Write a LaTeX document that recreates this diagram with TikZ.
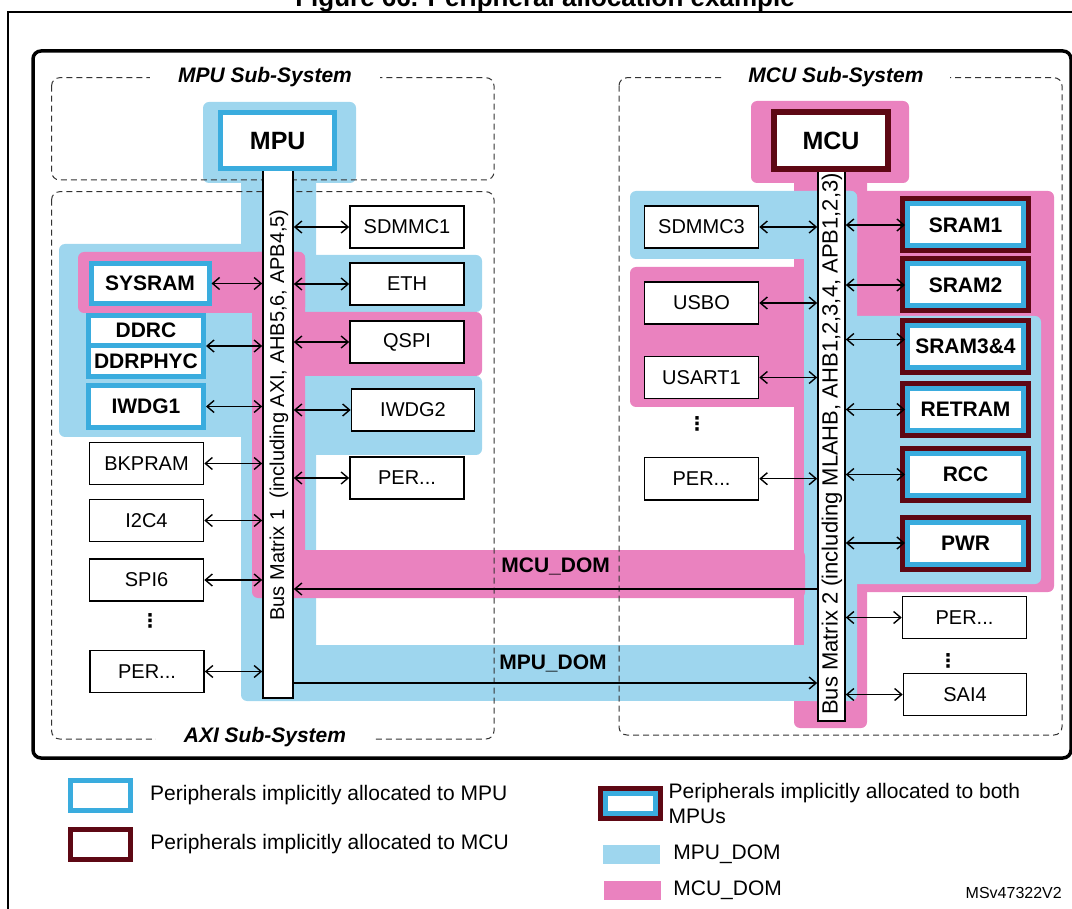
\documentclass[tikz,border=0pt]{standalone}
\usepackage{fontspec}
\setmainfont{Liberation Sans}
\newfontfamily\dotsfont{DejaVu Sans}
\usepackage{xcolor}
\usepackage{tikz}
\usetikzlibrary{arrows.meta, positioning, calc}

\definecolor{mpudom}{RGB}{158,214,238}
\definecolor{mcudom}{RGB}{234,130,191}
\definecolor{mpuedge}{RGB}{58,172,222}
\definecolor{mcuedge}{RGB}{94,8,20}

\tikzset{
  per/.style={draw, line width=1.6pt, fill=white, inner sep=0pt,
    minimum width=114, minimum height=42, font=\fontsize{20}{24}\selectfont},
  mpubox/.style={draw=mpuedge, line width=5pt, fill=white, inner sep=0pt,
    font=\fontsize{21}{25}\selectfont\bfseries},
  mcubox/.style={draw=mcuedge, line width=5.5pt, fill=white, inner sep=0pt,
    font=\fontsize{21}{25}\selectfont\bfseries},
  bothbox/.style={mpubox, preaction={draw=mcuedge, line width=15pt},
    minimum width=116, minimum height=42},
  bus/.style={draw, line width=1.6pt, fill=white, inner sep=0pt},
  subsys/.style={dashed, dash pattern=on 6pt off 4pt, line width=1pt,
    draw=black!80, rounded corners=8pt},
  subtitle/.style={fill=white, inner xsep=28pt, inner ysep=1pt,
    font=\fontsize{21}{25}\selectfont\bfseries\itshape},
  domlbl/.style={inner sep=0pt, font=\fontsize{21}{25}\selectfont\bfseries},
  legtxt/.style={inner sep=0pt, align=left, font=\fontsize{21}{25}\selectfont},
  vdotsnode/.style={inner sep=0pt, font=\fontsize{19}{22}\dotsfont\bfseries},
}

\begin{document}
\begin{tikzpicture}[x=1pt, y=-1pt, >={Straight Barb[length=7pt,width=12pt]}]

  \useasboundingbox (0,0) rectangle (1072,909);

  % frame and caption
  \node[anchor=base, font=\fontsize{26}{30}\selectfont\bfseries] (caption) at (545,6.5) {Figure 66. Peripheral allocation example};
  \draw[line width=2pt] (7.6,920) -- (7.6,12) -- (1085,12);
  \draw[line width=3.5pt, rounded corners=8pt] (33,51) rectangle (1071,758);

  % MCU_DOM, right
  \fill[mcudom, rounded corners=6pt] (751,101) rectangle (909,183);
  \fill[mcudom, rounded corners=6pt] (794,175) rectangle (867,728);
  \fill[mcudom, rounded corners=6pt] (857,191) rectangle (1054,592);
  \fill[mcudom, rounded corners=6pt] (630,267) rectangle (805,407);
  % MPU_DOM, right
  \fill[mpudom, rounded corners=6pt] (630,191) rectangle (857,259);
  \fill[mpudom, rounded corners=6pt] (804,191) rectangle (857,701);
  \fill[mpudom, rounded corners=6pt] (845,316) rectangle (1041,584);
  % MPU_DOM, left
  \fill[mpudom, rounded corners=6pt] (203,102) rectangle (356,183);
  \fill[mpudom, rounded corners=6pt] (241,175) rectangle (316,701);
  \fill[mpudom, rounded corners=6pt] (305,255) rectangle (482,312);
  \fill[mpudom, rounded corners=6pt] (59,244) rectangle (262,437);
  \fill[mpudom, rounded corners=6pt] (305,376) rectangle (482,455);
  \fill[mpudom] (252,645) rectangle (830,701);
  % MCU_DOM, left
  \fill[mcudom, rounded corners=6pt] (78,252) rectangle (305,313);
  \fill[mcudom, rounded corners=6pt] (252,252) rectangle (305,570);
  \fill[mcudom, rounded corners=6pt] (295,312) rectangle (482,376);
  \fill[mcudom, rounded corners=6pt] (252,550) rectangle (805,598);

  % sub-systems
  \draw[subsys] (51.6,77.7) rectangle (494,180);
  \draw[subsys] (51.6,191.7) rectangle (494,739);
  \draw[subsys] (619,77.7) rectangle (1062,735);
  \node[subtitle] (mpusys) at (265,77) {MPU Sub-System};
  \node[subtitle] (axisys) at (265,737) {AXI Sub-System};
  \node[subtitle, inner xsep=26pt] (mcusys) at (836,77) {MCU Sub-System};

  % bus matrices
  \node[bus, minimum width=30, minimum height=529] (bus1) at (278,433.5) {};
  \node[rotate=90, inner sep=0pt, font=\fontsize{20}{24}\selectfont] (bus1txt) at (279,415) {Bus Matrix 1~ (including AXI, AHB5,6, APB4,5)};
  \node[bus, minimum width=27, minimum height=553] (bus2) at (831.5,444.5) {};
  \node[rotate=90, inner sep=0pt, font=\fontsize{22}{26}\selectfont] (bus2txt) at (832,444) {Bus Matrix 2 (including MLAHB, AHB1,2,3,4, APB1,2,3)};

  % cores
  \node[mpubox, minimum width=114, minimum height=56, font=\fontsize{25}{30}\selectfont\bfseries] (mpu) at (277.75,141) {MPU};
  \node[mcubox, minimum width=114, minimum height=57, font=\fontsize{25}{30}\selectfont\bfseries] (mcu) at (831,140.5) {MCU};

  % AXI peripherals
  \node[mpubox, minimum width=118, minimum height=40] (sysram) at (150,283.5) {SYSRAM};
  \node[mpubox, minimum width=115, minimum height=61, align=center,
    font=\fontsize{21}{31}\selectfont\bfseries] (ddr) at (146,346) {DDRC\\DDRPHYC};
  \draw[mpuedge, line width=5pt] (ddr.west) -- (ddr.east);
  \node[mpubox, minimum width=115, minimum height=42] (iwdg1) at (146,406.5) {IWDG1};
  \node[per] (bkpram) at (146.5,463.5) {BKPRAM};
  \node[per] (i2c4) at (146.5,520.5) {I2C4};
  \node[per] (spi6) at (146.5,580) {SPI6};
  \node[vdotsnode] (dotsl) at (150,621) {⋮};
  \node[per] (perl) at (147,671.5) {PER...};

  \node[per] (sdmmc1) at (407,227) {SDMMC1};
  \node[per] (eth) at (407,284) {ETH};
  \node[per] (qspi) at (407,342) {QSPI};
  \node[per, minimum width=123] (iwdg2) at (413,410) {IWDG2};
  \node[per] (perm) at (407,478) {PER...};

  % MCU peripherals
  \node[per] (sdmmc3) at (701.5,227) {SDMMC3};
  \node[per] (usbo) at (701.5,303) {USBO};
  \node[per] (usart1) at (701.5,377.5) {USART1};
  \node[vdotsnode] (dotsm) at (697,424) {⋮};
  \node[per] (perr) at (701.5,478.7) {PER...};

  \node[bothbox] (sram1) at (965.5,225) {SRAM1};
  \node[bothbox] (sram2) at (965.5,285) {SRAM2};
  \node[bothbox] (sram34) at (965.5,346.5) {SRAM3\&4};
  \node[bothbox] (retram) at (965.5,409.5) {RETRAM};
  \node[bothbox] (rcc) at (965.5,474.5) {RCC};
  \node[bothbox] (pwr) at (965.5,543) {PWR};
  \node[per, minimum width=124] (per2) at (964.5,617.5) {PER...};
  \node[vdotsnode] (dotsr) at (948,661) {⋮};
  \node[per, minimum width=123] (sai4) at (965,694.5) {SAI4};

  % links to bus matrix 1
  \foreach \p in {sysram, ddr, iwdg1, bkpram, i2c4, spi6, perl}
    \draw[<->, line width=1.4pt] (\p.east) -- (\p.east -| bus1.west);
  \foreach \p in {sdmmc1, eth, qspi, iwdg2, perm}
    \draw[<->, line width=1.4pt] (\p.west) -- (\p.west -| bus1.east);

  % links to bus matrix 2
  \foreach \p in {sdmmc3, usbo, usart1, perr}
    \draw[<->, line width=1.4pt] (\p.east) -- (\p.east -| bus2.west);
  \foreach \p in {sram1, sram2, retram, rcc, pwr, per2, sai4}
    \draw[<->, line width=1.4pt] (\p.west) -- (\p.west -| bus2.east);
  \draw[<->, line width=1.4pt] ([yshift=7pt]sram34.west) -- ([yshift=7pt]sram34.west -| bus2.east);

  % domain paths
  \coordinate (mculine) at (555,589);
  \coordinate (mpuline) at (555,683);
  \draw[->, line width=1.4pt] (mculine -| bus2.west) -- (mculine -| bus1.east);
  \draw[->, line width=1.4pt] (mpuline -| bus1.east) -- (mpuline -| bus2.west);
  \node[domlbl] (mcudomlbl) at (555.6,566.7) {MCU\_DOM};
  \node[domlbl] (mpudomlbl) at (553,663.3) {MPU\_DOM};

  % legend
  \node[mpubox, minimum width=60, minimum height=30] (legmpu) at (100.5,795.3) {};
  \node[legtxt, right=17pt of legmpu] (legmputxt) {Peripherals implicitly allocated to MPU};
  \node[mcubox, minimum width=60, minimum height=30] (legmcu) at (100.5,844.5) {};
  \node[legtxt, right=17pt of legmcu] (legmcutxt) {Peripherals implicitly allocated to MCU};
  \node[bothbox, minimum width=50, minimum height=20] (legboth) at (630,803) {};
  \node[legtxt, right=11pt of legboth] (legbothtxt) {Peripherals implicitly allocated to both\\MPUs};
  \node[fill=mpudom, inner sep=0pt, minimum width=57, minimum height=19] (legmpudom) at (631.5,854.5) {};
  \node[legtxt, right=13pt of legmpudom] (legmpudomtxt) {MPU\_DOM};
  \node[fill=mcudom, inner sep=0pt, minimum width=57, minimum height=19] (legmcudom) at (632.5,890.5) {};
  \node[legtxt, right=12pt of legmcudom] (legmcudomtxt) {MCU\_DOM};
  \node[anchor=east, inner sep=0pt, font=\fontsize{16}{19}\selectfont] (docref) at (1062,893) {MSv47322V2};

\end{tikzpicture}
\end{document}
